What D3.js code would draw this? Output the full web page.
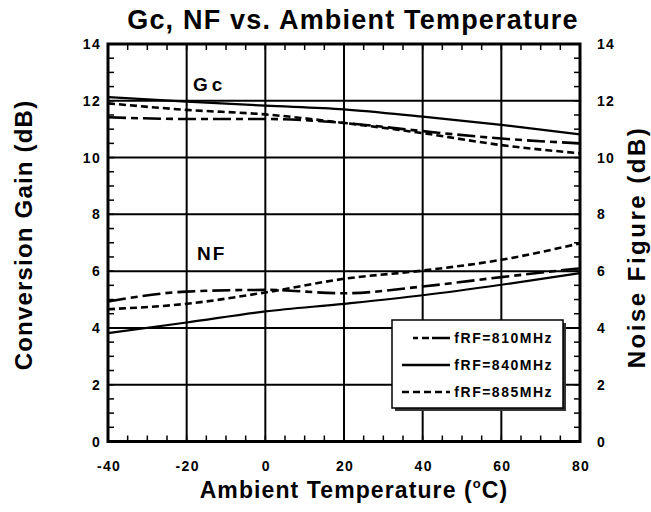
<!DOCTYPE html>
<html><head><meta charset="utf-8">
<script src="https://cdn.jsdelivr.net/npm/d3@7"></script>
<style>
html,body{margin:0;padding:0;background:#fff;}
svg{display:block;}
text{font-family:"Liberation Sans",Arial,sans-serif;font-weight:bold;fill:#000;}
</style></head>
<body><svg id="c" width="651" height="512"></svg>
<script>
// ---- data ----
const temps = [-40, -20, 0, 20, 40, 60, 80];
const gc810 = [11.42, 11.36, 11.36, 11.22, 10.93, 10.67, 10.50];
const gc840 = [12.13, 11.97, 11.83, 11.70, 11.44, 11.15, 10.82];
const gc885 = [11.91, 11.68, 11.52, 11.22, 10.86, 10.44, 10.15];
const nf810 = [4.93, 5.28, 5.34, 5.22, 5.46, 5.79, 6.10];
const nf840 = [3.82, 4.19, 4.58, 4.85, 5.15, 5.52, 5.93];
const nf885 = [4.66, 4.85, 5.25, 5.73, 6.02, 6.40, 6.98];
const xTicks = [-40, -20, 0, 20, 40, 60, 80];
const yTicks = [0, 2, 4, 6, 8, 10, 12, 14];
const seriesNames = ["fRF=810MHz", "fRF=840MHz", "fRF=885MHz"];
const titleText = "Gc, NF vs. Ambient Temperature";
const xTitle = "Ambient Temperature (";
const yLeftTitle = "Conversion Gain (dB)";
const yRightTitle = "Noise Figure (dB)";

// ---- layout ----
const svg = d3.select("#c");
const L = 108, R = 580, T = 44, B = 441.5;
const x = d3.scaleLinear().domain([-40, 80]).range([L, R]);
const y = d3.scaleLinear().domain([0, 14]).range([B, T]);
const dashes = {"fRF=810MHz": "18,5,7,5", "fRF=840MHz": null, "fRF=885MHz": "7,4"};

// grid
const g = svg.append("g");
g.selectAll(".vg").data(xTicks.slice(1, -1)).enter().append("line")
  .attr("x1", d => x(d)).attr("x2", d => x(d)).attr("y1", T).attr("y2", B)
  .attr("stroke", "#000").attr("stroke-width", 2);
g.selectAll(".hg").data(yTicks.slice(1, -1)).enter().append("line")
  .attr("y1", d => y(d)).attr("y2", d => y(d)).attr("x1", L).attr("x2", R)
  .attr("stroke", "#000").attr("stroke-width", 2);

// minor ticks
const xMinor = d3.range(-40, 80.01, 5);
const yMinor = d3.range(0, 14.01, 0.5);
g.selectAll(".xmb").data(xMinor).enter().append("line")
  .attr("x1", d => x(d)).attr("x2", d => x(d)).attr("y1", B).attr("y2", B - 6)
  .attr("stroke", "#000").attr("stroke-width", 1.5);
g.selectAll(".xmt").data(xMinor).enter().append("line")
  .attr("x1", d => x(d)).attr("x2", d => x(d)).attr("y1", T).attr("y2", T + 6)
  .attr("stroke", "#000").attr("stroke-width", 1.5);
g.selectAll(".yml").data(yMinor).enter().append("line")
  .attr("y1", d => y(d)).attr("y2", d => y(d)).attr("x1", L).attr("x2", L + 6)
  .attr("stroke", "#000").attr("stroke-width", 1.5);
g.selectAll(".ymr").data(yMinor).enter().append("line")
  .attr("y1", d => y(d)).attr("y2", d => y(d)).attr("x1", R).attr("x2", R - 6)
  .attr("stroke", "#000").attr("stroke-width", 1.5);

// curves
const line = d3.line().x(d => x(d[0])).y(d => y(d[1])).curve(d3.curveMonotoneX);
const curves = [
  [gc810, seriesNames[0]], [gc840, seriesNames[1]], [gc885, seriesNames[2]],
  [nf810, seriesNames[0]], [nf840, seriesNames[1]], [nf885, seriesNames[2]]
];
curves.forEach(([vals, name]) => {
  svg.append("path").datum(temps.map((t, i) => [t, vals[i]]))
    .attr("d", line).attr("fill", "none").attr("stroke", "#000")
    .attr("stroke-width", name === seriesNames[1] ? 2.2 : 2.6)
    .attr("stroke-dasharray", dashes[name]);
});

// frame
svg.append("rect").attr("x", L).attr("y", T).attr("width", R - L).attr("height", B - T)
  .attr("fill", "none").attr("stroke", "#000").attr("stroke-width", 3);

// tick labels
const tickFont = "14px", tickLs = "1.3px";
svg.selectAll(".xl").data(xTicks).enter().append("text")
  .attr("x", d => x(d) + 1).attr("y", 471).attr("text-anchor", "middle")
  .style("font-size", tickFont).style("letter-spacing", tickLs).text(d => d);
svg.selectAll(".yl").data(yTicks).enter().append("text")
  .attr("x", 101).attr("y", d => y(d) + 5).attr("text-anchor", "end")
  .style("font-size", tickFont).style("letter-spacing", tickLs).text(d => d);
svg.selectAll(".yr").data(yTicks).enter().append("text")
  .attr("x", 597).attr("y", d => y(d) + 5).attr("text-anchor", "start")
  .style("font-size", tickFont).style("letter-spacing", tickLs).text(d => d);

// titles
svg.append("text").attr("x", 353).attr("y", 29).attr("text-anchor", "middle")
  .style("font-size", "27px").style("letter-spacing", "1.2px").text(titleText);
const xt = svg.append("text").attr("x", 354).attr("y", 498).attr("text-anchor", "middle")
  .style("font-size", "23px").style("letter-spacing", "1.1px");
xt.append("tspan").text(xTitle);
xt.append("tspan").attr("dy", -10).style("font-size", "13px").text("o");
xt.append("tspan").attr("dy", 10).text("C)");
svg.append("text").attr("transform", "translate(32,235) rotate(-90)").attr("text-anchor", "middle")
  .style("font-size", "24px").style("letter-spacing", "1.2px").text(yLeftTitle);
svg.append("text").attr("transform", "translate(645,247) rotate(-90)").attr("text-anchor", "middle")
  .style("font-size", "24px").style("letter-spacing", "2.5px").text(yRightTitle);

// curve labels
svg.append("text").attr("x", 193).attr("y", 91).style("font-size", "19px").style("letter-spacing", "4px").text("Gc");
svg.append("text").attr("x", 197).attr("y", 260).style("font-size", "19px").style("letter-spacing", "2px").text("NF");

// legend
const lg = svg.append("g");
lg.append("rect").attr("x", 395).attr("y", 323).attr("width", 171).attr("height", 88).attr("fill", "#333");
lg.append("rect").attr("x", 392).attr("y", 320).attr("width", 171).attr("height", 88)
  .attr("fill", "#fff").attr("stroke", "#000").attr("stroke-width", 1.5);
seriesNames.forEach((n, i) => {
  const yy = 338 + i * 27;
  lg.append("line").attr("x1", i === 0 ? 413 : 402).attr("x2", 450).attr("y1", yy).attr("y2", yy)
    .attr("stroke", "#000").attr("stroke-width", 2.6)
    .attr("stroke-dasharray", i === 0 ? "5,4,7,3,18" : dashes[n]);
  lg.append("text").attr("x", 553).attr("y", yy + 5).attr("text-anchor", "end")
    .style("font-size", "14px").style("letter-spacing", "1.5px").text(n);
});
</script></body></html>
